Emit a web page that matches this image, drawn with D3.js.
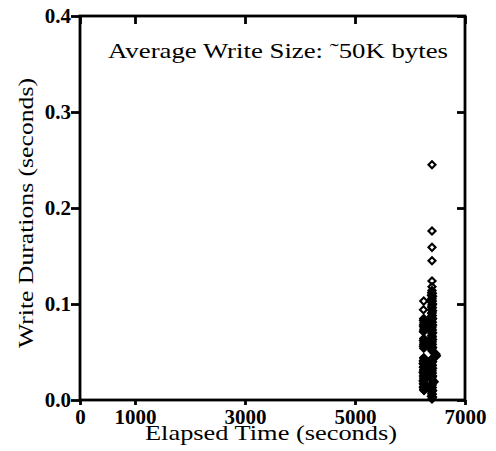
<!DOCTYPE html>
<html>
<head>
<meta charset="utf-8">
<script src="https://cdn.jsdelivr.net/npm/d3@7"></script>
<style>
  body { margin: 0; background: #fff; }
  svg { display: block; }
</style>
</head>
<body>
<svg width="496" height="451"></svg>
<script>
// tick values
var xTicks = [0, 1000, 3000, 5000, 7000];
var yTicks = [0.0, 0.1, 0.2, 0.3, 0.4];

// first burst of writes (left column)
var elapsedA = [6250, 6245, 6250, 6245, 6255, 6250, 6245, 6255, 6250, 6245,
                6250, 6245, 6255, 6250, 6245, 6250,
                6250, 6255, 6245, 6250, 6240, 6255, 6250, 6245, 6255, 6250, 6240, 6250,
                6255, 6245, 6250, 6255, 6240, 6250, 6245, 6255, 6250, 6245, 6250, 6255];
var durationA = [0.103, 0.094, 0.085, 0.083, 0.081, 0.079, 0.077, 0.075, 0.073, 0.071,
                 0.064, 0.062, 0.060, 0.058, 0.056, 0.054,
                 0.044, 0.043, 0.041, 0.040, 0.038, 0.037, 0.035, 0.034, 0.032, 0.031, 0.029, 0.028,
                 0.026, 0.025, 0.023, 0.022, 0.020, 0.019, 0.017, 0.016, 0.014, 0.013, 0.011, 0.010];

// second burst of writes (right column)
var elapsedB = [6400, 6400, 6400, 6400, 6400, 6400, 6400, 6395, 6405, 6390,
                6410, 6400, 6395, 6405, 6390, 6410, 6400, 6395, 6405, 6390,
                6410, 6400, 6395, 6405, 6390, 6410, 6400, 6395, 6405, 6390,
                6410, 6400, 6395, 6405, 6390, 6410, 6400, 6395, 6405, 6390,
                6410, 6400, 6395, 6405, 6390, 6410, 6400, 6395, 6405, 6440,
                6470, 6480, 6460, 6400, 6390, 6410, 6400, 6395, 6405, 6390,
                6410, 6400, 6395, 6405, 6390, 6410, 6400, 6395, 6405, 6440,
                6410, 6400, 6395, 6405, 6390, 6410, 6400, 6395, 6405, 6390,
                6410, 6400];
var durationB = [0.245, 0.176, 0.159, 0.145, 0.124, 0.118, 0.114, 0.112, 0.111, 0.109,
                 0.108, 0.106, 0.105, 0.103, 0.102, 0.100, 0.099, 0.097, 0.096, 0.094,
                 0.093, 0.091, 0.090, 0.088, 0.087, 0.085, 0.084, 0.082, 0.081, 0.079,
                 0.078, 0.076, 0.075, 0.073, 0.072, 0.070, 0.069, 0.067, 0.066, 0.064,
                 0.063, 0.061, 0.060, 0.058, 0.057, 0.055, 0.054, 0.052, 0.051, 0.049,
                 0.048, 0.046, 0.045, 0.043, 0.042, 0.040, 0.039, 0.037, 0.036, 0.034,
                 0.033, 0.031, 0.030, 0.028, 0.027, 0.025, 0.024, 0.022, 0.021, 0.019,
                 0.018, 0.016, 0.015, 0.013, 0.012, 0.010, 0.009, 0.007, 0.006, 0.004,
                 0.003, 0.001];

var titleText = "Average Write Size: \u02DC50K bytes";
var xTitle = "Elapsed Time (seconds)";
var yTitle = "Write Durations (seconds)";

var svg = d3.select("svg");
var plotLeft = 80, plotRight = 465, plotTop = 16, plotBottom = 400;
var lw = 2.8;
var serif = "'Liberation Serif', 'Times New Roman', serif";

var x = d3.scaleLinear().domain([0, 7000]).range([plotLeft, plotRight]);
var y = d3.scaleLinear().domain([0, 0.4]).range([plotBottom, plotTop]);

var points = [];
elapsedA.forEach(function(t, i) { points.push([t, durationA[i]]); });
elapsedB.forEach(function(t, i) { points.push([t, durationB[i]]); });

// points: hollow diamonds, outlines only
var diamond = d3.symbol().type(d3.symbolSquare).size(25);
svg.append("g").selectAll("path")
    .data(points)
    .enter()
    .append("path")
    .attr("d", diamond)
    .attr("transform", function(d) { return "translate(" + x(d[0]) + "," + y(d[1]) + ") rotate(45)"; })
    .attr("fill", "none")
    .attr("stroke", "#000")
    .attr("stroke-width", 2.1);

function styleAxis(g) {
    g.select(".domain").remove();
    g.selectAll(".tick line").attr("stroke", "#000").attr("stroke-width", lw);
    g.selectAll(".tick text")
        .attr("fill", "#000")
        .attr("font-family", serif)
        .attr("font-weight", "bold")
        .attr("font-size", 21);
}

svg.append("g")
    .attr("transform", "translate(0," + plotBottom + ")")
    .call(d3.axisBottom(x).tickValues(xTicks).tickSize(5).tickPadding(4).tickFormat(d3.format("d")))
    .call(styleAxis);

svg.append("g")
    .attr("transform", "translate(" + plotLeft + ",0)")
    .call(d3.axisLeft(y).tickValues(yTicks).tickSize(9).tickPadding(0).tickFormat(d3.format(".1f")))
    .call(styleAxis);

svg.append("g")
    .attr("transform", "translate(0," + plotTop + ")")
    .call(d3.axisTop(x).tickValues(xTicks).tickSize(-8).tickFormat(""))
    .call(styleAxis);

svg.append("g")
    .attr("transform", "translate(" + plotRight + ",0)")
    .call(d3.axisRight(y).tickValues(yTicks).tickSize(-8).tickFormat(""))
    .call(styleAxis);

// frame
svg.append("rect")
    .attr("x", plotLeft).attr("y", plotTop)
    .attr("width", plotRight - plotLeft).attr("height", plotBottom - plotTop)
    .attr("fill", "none").attr("stroke", "#000").attr("stroke-width", lw);

// texts
svg.append("text")
    .attr("x", 108).attr("y", 58)
    .attr("font-family", serif)
    .attr("font-size", 22)
    .attr("textLength", 340)
    .attr("lengthAdjust", "spacingAndGlyphs")
    .text(titleText);

svg.append("text")
    .attr("x", 271).attr("y", 440)
    .attr("text-anchor", "middle")
    .attr("font-family", serif)
    .attr("font-size", 22)
    .attr("textLength", 252)
    .attr("lengthAdjust", "spacingAndGlyphs")
    .text(xTitle);

svg.append("text")
    .attr("transform", "translate(33,213) rotate(-90)")
    .attr("text-anchor", "middle")
    .attr("font-family", serif)
    .attr("font-size", 22)
    .attr("textLength", 270)
    .attr("lengthAdjust", "spacingAndGlyphs")
    .text(yTitle);
</script>
</body>
</html>
